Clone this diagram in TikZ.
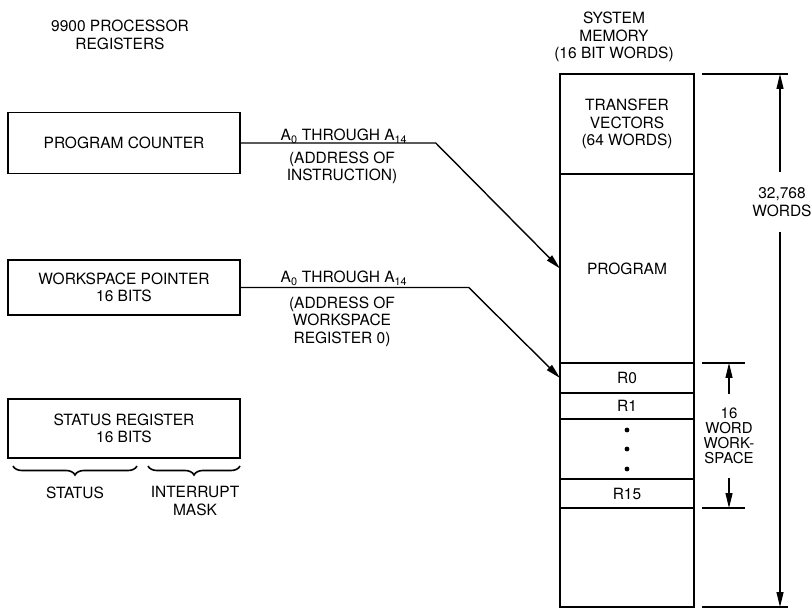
\documentclass[tikz,border=0pt]{standalone}
\usepackage{fontspec}
\setmainfont{TeX Gyre Heros}
\usetikzlibrary{positioning, arrows.meta, decorations.pathreplacing}

\begin{document}
\begin{tikzpicture}
	[x=1pt, y=-1pt, font=\fontsize{15.5}{17.5}\selectfont,
	 reg/.style={draw, line width=1.5pt, minimum width=232pt, inner sep=0pt, align=center},
	 mem/.style={draw, line width=1.3pt, minimum width=134pt, inner sep=0pt, outer sep=0pt, align=center},
	 lbl/.style={align=center, inner sep=0pt},
	 bus/.style={line width=1.4pt, -{Triangle[length=15pt,width=7pt]}},
	 dim/.style={line width=1.2pt, -{Triangle[length=15pt,width=7pt]}},
	 brc/.style={line width=1.6pt, decorate, decoration={brace, mirror, amplitude=9pt}}]
   \useasboundingbox (0,0) rectangle (811,609);
   % titles
   \node[lbl] (t_reg) at (120,35) {9900 PROCESSOR\\REGISTERS};
   \node[lbl] (t_mem) at (614,37) {SYSTEM\\MEMORY\\(16 BIT WORDS)};
   % processor registers
   \node[reg, minimum height=61pt] (q_pc) at (124,143) {PROGRAM COUNTER};
   \node[reg, minimum height=55pt] (q_wp) at (124,287.5) {WORKSPACE POINTER\\16 BITS};
   \node[reg, minimum height=59pt] (q_sr) at (124,428.5) {STATUS REGISTER\\16 BITS};
   % status register fields
   \coordinate (b_1) at (13,466);
   \coordinate (b_2) at (137,466);
   \coordinate (b_3) at (148,466);
   \coordinate (b_4) at (240,466);
   \draw[brc] (b_1) -- (b_2);
   \draw[brc] (b_3) -- (b_4);
   \node[lbl] (f_st) at (75,493) {STATUS};
   \node[lbl] (f_im) at (195,501) {INTERRUPT\\MASK};
   % system memory
   \node[mem, minimum height=100pt] (m_tv) at (627,124) {TRANSFER\\VECTORS\\(64 WORDS)};
   \node[mem, minimum height=189pt, below=0pt of m_tv] (m_prog) {PROGRAM};
   \node[mem, minimum height=30pt, below=0pt of m_prog] (m_r0) {R0};
   \node[mem, minimum height=26pt, below=0pt of m_r0] (m_r1) {R1};
   \node[mem, minimum height=60pt, below=0pt of m_r1] (m_dots) {};
   \node[mem, minimum height=29pt, below=0pt of m_dots] (m_r15) {R15};
   \node[mem, minimum height=99pt, below=0pt of m_r15] (m_free) {};
   \foreach \dy in {-19,0,20}
      \fill ([yshift=-\dy pt]m_dots.center) circle (2.4pt);
   % address buses
   \draw[bus] (q_pc.east) -- ++(195,0) -- (m_prog.west);
   \draw[bus] (q_wp.east) -- ++(228,0) -- (m_r0.west);
   \node[lbl, anchor=base] (a_pc) at (344,141) {A\textsubscript{0} THROUGH A\textsubscript{14}};
   \node[lbl] (d_pc) at (342,168) {(ADDRESS OF\\INSTRUCTION)};
   \node[lbl, anchor=base] (a_wp) at (344,283) {A\textsubscript{0} THROUGH A\textsubscript{14}};
   \node[lbl] (d_wp) at (342,321.5) {(ADDRESS OF\\WORKSPACE\\REGISTER 0)};
   % memory size
   \coordinate (d_top) at (780,74);
   \coordinate (d_bot) at (780,607);
   \draw[line width=1.2pt] (m_tv.north east) ++(8,0) -- ++(86,0);
   \draw[line width=1.2pt] (m_free.south east) ++(8,0) -- ++(86,0);
   \node[lbl, inner ysep=15pt] (w_total) at (782,202) {32,768\\WORDS};
   \draw[dim] (w_total.north -| d_top) -- (d_top);
   \draw[dim] (w_total.south -| d_top) -- (d_bot);
   % workspace size
   \coordinate (s_top) at (729,363);
   \coordinate (s_bot) at (729,508);
   \draw[line width=1.2pt] (m_r0.north east) ++(8,0) -- ++(43,0);
   \draw[line width=1.2pt] (m_r15.south east) ++(8,0) -- ++(43,0);
   \node[lbl, inner ysep=14pt, font=\fontsize{15}{15}\selectfont] (w_ws) at (729,436) {16\\WORD\\WORK-\\SPACE};
   \draw[dim] (w_ws.north) -- (s_top);
   \draw[dim] (w_ws.south) -- (s_bot);
\end{tikzpicture}
\end{document}
